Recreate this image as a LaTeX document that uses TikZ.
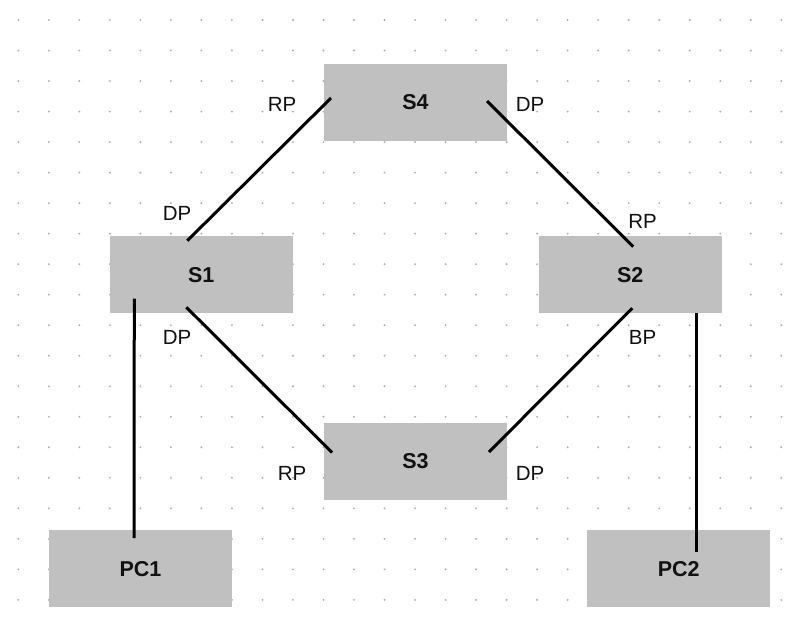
\documentclass[tikz,border=0pt]{standalone}
\usepackage{fontspec}
\setmainfont{Liberation Sans}
\usetikzlibrary{calc}
\definecolor{boxgray}{HTML}{C0C0C0}
\definecolor{dotgray}{HTML}{ADADAD}
\definecolor{ink}{HTML}{111111}
\tikzset{
  dev/.style={fill=boxgray, draw=none, minimum width=183pt, minimum height=77pt, inner sep=0pt,
    font=\fontsize{21.5}{23}\selectfont\bfseries, text=ink},
  port/.style={inner sep=0pt, font=\fontsize{20.5}{22}\selectfont, text=ink},
  link/.style={line width=3pt, draw=black},
  griddot/.style={fill=dotgray, draw=none}
}
\begin{document}
\begin{tikzpicture}[x=1pt,y=-1pt]
\useasboundingbox (0,0) rectangle (800,627);
\fill[white] (0,0) rectangle (800,627);
% dotted grid
\foreach \i in {0,...,25}{
  \foreach \j in {0,...,19}{
    \fill[griddot] ({18.3+30.52*\i},{20+30.52*\j}) circle (1.05pt);
  }
}
% devices
\node[dev] (S4) at (415.5,102.5) {S4};
\node[dev] (S1) at (201.3,274.7) {S1};
\node[dev] (S2) at (630.2,274.7) {S2};
\node[dev] (S3) at (415.5,461) {S3};
\node[dev] (PC1) at (140.5,568.7) {PC1};
\node[dev] (PC2) at (678.7,568.7) {PC2};
% connectors
\draw[link] ([shift={(-84.5,-4.5)}]S4.center) -- ([shift={(-14,-34)}]S1.center);
\draw[link] ([shift={(71.5,-1.5)}]S4.center) -- ([shift={(3,-28)}]S2.center);
\draw[link] ([shift={(-15,32.5)}]S1.center) -- ([shift={(-83.5,-8.5)}]S3.center);
\draw[link] ([shift={(2,33.5)}]S2.center) -- ([shift={(73.5,-9)}]S3.center);
\draw[link] ([shift={(-67,24)}]S1.center) -- ([shift={(-6.5,-30.7)}]PC1.center);
\draw[link] ([shift={(65.8,38)}]S2.center) -- ([shift={(17.3,-16.7)}]PC2.center);
% port labels
\node[port] (l4a) at (282,104) {RP};
\node[port] (l4b) at (530,104) {DP};
\node[port] (l1a) at (177,213.5) {DP};
\node[port] (l1b) at (177,337) {DP};
\node[port] (l2a) at (642.5,221) {RP};
\node[port] (l2b) at (642.5,337) {BP};
\node[port] (l3a) at (292,473.5) {RP};
\node[port] (l3b) at (530,473.5) {DP};
\end{tikzpicture}
\end{document}
